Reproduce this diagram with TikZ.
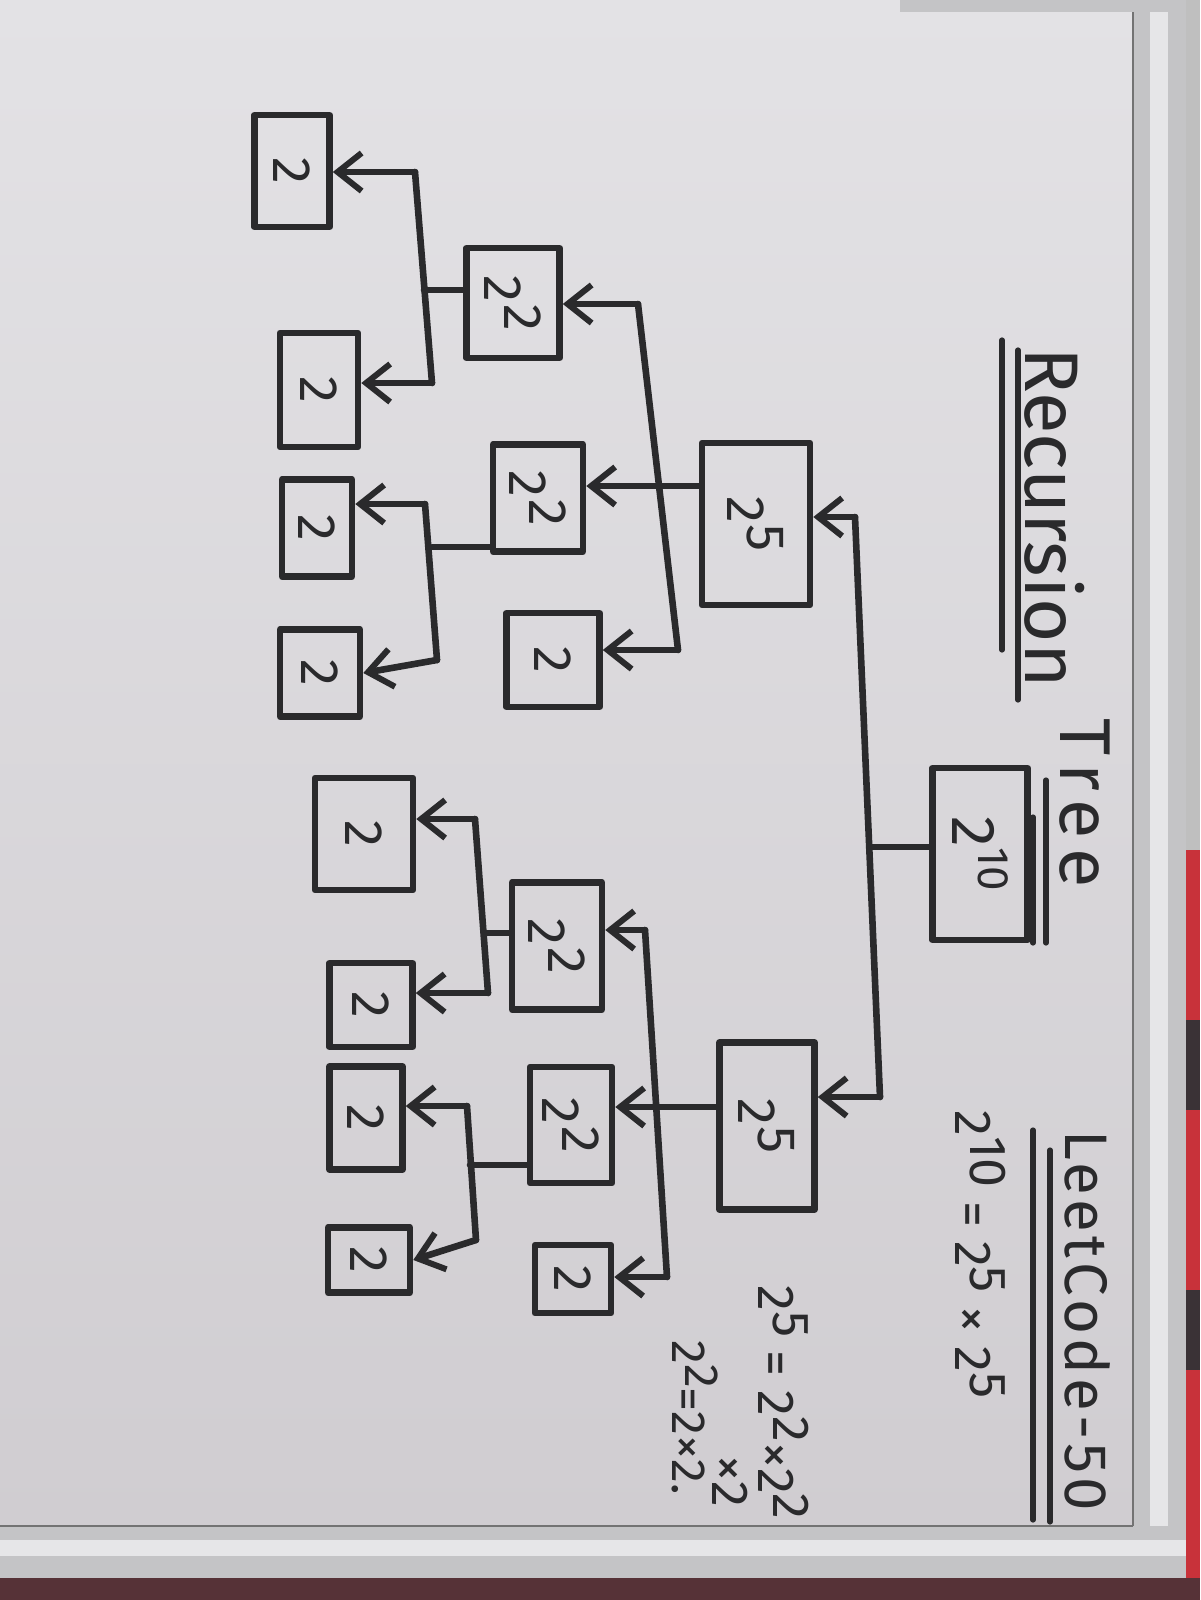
\documentclass[tikz,border=0pt]{standalone}
\usepackage{fontspec}
\usepackage{graphicx}
\setmainfont{Fira Sans}
\usetikzlibrary{arrows.meta,calc}
\definecolor{inkc}{HTML}{2A2A2C}
\definecolor{boardA}{HTML}{E3E2E5}
\definecolor{boardB}{HTML}{D0CDD1}
\definecolor{frameA}{HTML}{C4C4C6}
\definecolor{frameB}{HTML}{E6E6E8}
\definecolor{clothR}{HTML}{C8323A}
\definecolor{clothD}{HTML}{3A3236}
% power written the way the board shows it: exponent raised, same size
\newcommand\pw[2]{#1\raisebox{0.55ex}{#2}}
\newcommand\pb[2]{#1\kern1pt\raisebox{0.7ex}{#2}}
\newcommand\rt[1]{\rotatebox{-90}{#1}}
\begin{document}
\begin{tikzpicture}[x=0.5pt,y=-0.5pt,
  ink/.style={draw=inkc,line width=3.3pt,line cap=round,line join=round},
  box/.style={ink,rectangle,inner sep=0pt,text=inkc,font=\fontsize{27}{30}\selectfont},
  wh/.style 2 args={minimum width=#1*0.5pt,minimum height=#2*0.5pt},
  arr/.style={ink,-{Straight Barb[length=12pt,width=19pt,line width=3pt]}},
  hand/.style={text=inkc,rotate=-90,anchor=base west,inner sep=0pt},
  rule/.style={ink,line width=2.6pt}]
% board, frame and surroundings
\useasboundingbox (0,0) rectangle (1200,1600);
\shade[top color=boardA,bottom color=boardB] (0,0) rectangle (1135,1528);
\fill[frameA] (1133,0) rectangle (1186,1560);
\fill[frameB] (1150,0) rectangle (1168,1560);
\draw[black!55,line width=1pt] (1133,0) -- (1133,1528);
\fill[frameA] (0,1526) rectangle (1186,1578);
\fill[frameB] (0,1540) rectangle (1186,1556);
\draw[black!55,line width=1pt] (0,1526) -- (1133,1526);
\fill[frameA] (900,0) rectangle (1200,12);
\fill[black!25] (1186,0) rectangle (1200,850);
\fill[clothR] (1186,850) rectangle (1200,1600);
\fill[clothD] (1186,1020) rectangle (1200,1110);
\fill[clothD] (1186,1290) rectangle (1200,1370);
\fill[clothD!80!clothR] (0,1578) rectangle (1200,1600);

% title and notes
\node[hand,font=\fontsize{38}{42}\selectfont] (title1) at (1025,347) {Recursion};
\node[hand,font=\fontsize{36}{40}\selectfont\addfontfeature{LetterSpace=14}] (title2) at (1060,718) {Tree};
\draw[rule] (1002,340) -- (1002,650);
\draw[rule] (1018,350) -- (1018,700);
\draw[rule] (1033,817) -- (1033,943);
\draw[rule] (1046,780) -- (1046,943);
\node[hand,font=\fontsize{30}{34}\selectfont\addfontfeature{LetterSpace=7}] (lc) at (1065,1130) {LeetCode-50};
\draw[rule] (1033,1130) -- (1033,1520);
\draw[rule] (1050,1150) -- (1050,1522);
\node[hand,font=\fontsize{26}{30}\selectfont] (n1) at (955,1110) {\pw{2}{10} = \pw{2}{5} × \pw{2}{5}};
\node[hand,font=\fontsize{26}{30}\selectfont] (n2) at (758,1285) {\pw{2}{5} = \pw{2}{2}×\pw{2}{2}};
\node[hand,font=\fontsize{26}{30}\selectfont] (n3) at (712,1455) {×2};
\node[hand,font=\fontsize{24}{28}\selectfont] (n4) at (672,1340) {\pw{2}{2}=2×2.};

% tree boxes
\node[box,wh={95}{172},font=\fontsize{31}{34}\selectfont] (root) at (980,854) {\rt{2\raisebox{0.8ex}{\fontsize{22}{24}\selectfont 10}}};
\node[box,wh={108}{162}] (A) at (756,524) {\rt{\pb{2}{5}}};
\node[box,wh={95}{167}] (B) at (767,1126) {\rt{\pb{2}{5}}};
\node[box,wh={93}{110}] (A1) at (513,303) {\rt{\pb{2}{2}}};
\node[box,wh={90}{107}] (A2) at (538,498) {\rt{\pb{2}{2}}};
\node[box,wh={93}{94}] (A3) at (553,660) {\rt{2}};
\node[box,wh={90}{127}] (B1) at (557,946) {\rt{\pb{2}{2}}};
\node[box,wh={82}{116}] (B2) at (571,1125) {\rt{\pb{2}{2}}};
\node[box,wh={76}{68}] (B3) at (573,1279) {\rt{2}};
\node[box,wh={75}{112}] (A1a) at (292,171) {\rt{2}};
\node[box,wh={78}{114}] (A1b) at (319,390) {\rt{2}};
\node[box,wh={70}{97}] (A2a) at (317,528) {\rt{2}};
\node[box,wh={80}{87}] (A2b) at (320,673) {\rt{2}};
\node[box,wh={98}{112}] (B1a) at (364,834) {\rt{2}};
\node[box,wh={83}{84}] (B1b) at (371,1005) {\rt{2}};
\node[box,wh={73}{103}] (B2a) at (366,1118) {\rt{2}};
\node[box,wh={82}{65}] (B2b) at (369,1260) {\rt{2}};

% junction points of the connectors
\coordinate (jR) at (870,847);
\coordinate (cA) at (855,517);
\coordinate (cB) at (880,1097);
\coordinate (jA) at (655,486);
\coordinate (cA1) at (638,304);
\coordinate (cA3) at (678,650);
\coordinate (jB) at (667,1107);
\coordinate (cB1) at (645,930);
\coordinate (cB3) at (667,1277);
\coordinate (jA1) at (424,290);
\coordinate (cA1a) at (415,172);
\coordinate (cA1b) at (432,383);
\coordinate (jA2) at (432,547);
\coordinate (cA2a) at (425,504);
\coordinate (cA2b) at (437,660);
\coordinate (jB1) at (486,933);
\coordinate (cB1a) at (475,819);
\coordinate (cB1b) at (488,993);
\coordinate (jB2) at (470,1165);
\coordinate (cB2a) at (467,1106);
\coordinate (cB2b) at (476,1240);

% level 1
\draw[ink] (root.west |- jR) -- (jR);
\draw[ink] (cA) -- (cB);
\draw[arr] (cA) -- (cA -| A.east);
\draw[arr] (cB) -- (cB -| B.east);
% level 2
\draw[ink] (A.west |- jA) -- (jA);
\draw[ink] (cA1) -- (cA3);
\draw[arr] (jA) -- (jA -| A2.east);
\draw[arr] (cA1) -- (cA1 -| A1.east);
\draw[arr] (cA3) -- (cA3 -| A3.east);
\draw[ink] (B.west |- jB) -- (jB);
\draw[ink] (cB1) -- (cB3);
\draw[arr] (jB) -- (jB -| B2.east);
\draw[arr] (cB1) -- (cB1 -| B1.east);
\draw[arr] (cB3) -- (cB3 -| B3.east);
% level 3
\draw[ink] (A1.west |- jA1) -- (jA1);
\draw[ink] (cA1a) -- (cA1b);
\draw[arr] (cA1a) -- (cA1a -| A1a.east);
\draw[arr] (cA1b) -- (cA1b -| A1b.east);
\draw[ink] (A2.west |- jA2) -- (jA2);
\draw[ink] (cA2a) -- (cA2b);
\draw[arr] (cA2a) -- (cA2a -| A2a.east);
\draw[arr] (cA2b) -- (A2b.east);
\draw[ink] (B1.west |- jB1) -- (jB1);
\draw[ink] (cB1a) -- (cB1b);
\draw[arr] (cB1a) -- (cB1a -| B1a.east);
\draw[arr] (cB1b) -- (cB1b -| B1b.east);
\draw[ink] (B2.west |- jB2) -- (jB2);
\draw[ink] (cB2a) -- (cB2b);
\draw[arr] (cB2a) -- (cB2a -| B2a.east);
\draw[arr] (cB2b) -- (B2b.east);
\end{tikzpicture}
\end{document}
